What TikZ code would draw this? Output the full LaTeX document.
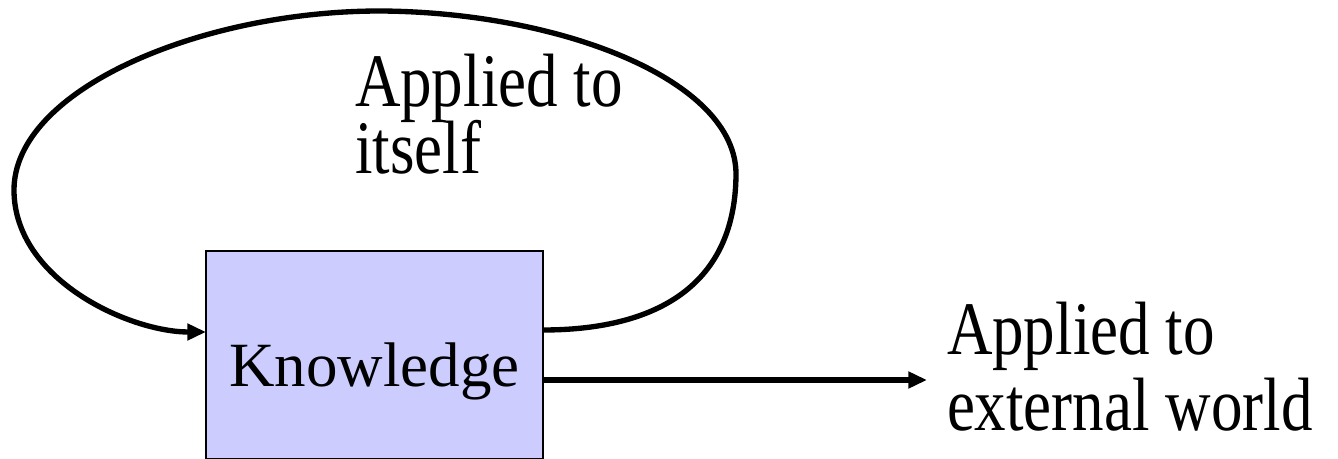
\documentclass[tikz,border=0pt]{standalone}
\usepackage{fontspec}
\setmainfont{Liberation Serif}
\usepackage{graphicx}
\usetikzlibrary{arrows.meta}
\definecolor{boxfill}{HTML}{CCCCFF}
\newcommand\twoline[3]{\scalebox{1}[1.2]{\vtop{\baselineskip=#3\lineskiplimit=-\maxdimen\lineskip=0pt\hbox{#1}\hbox{#2}}}}
\begin{document}
\begin{tikzpicture}[x=0.75pt,y=-0.75pt,
  conn/.style={line width=4pt, -{Triangle[length=14pt,width=12pt]}},
  lbl/.style={anchor=base west, inner sep=0pt, outer sep=0pt, font=\fontsize{47.25pt}{56pt}\selectfont},
  kbox/.style={draw, line width=1.3pt, fill=boxfill, minimum width=252.75pt, minimum height=156pt,
    inner sep=0pt, outer sep=0pt, text height=48pt, text depth=0pt, font=\fontsize{47.25pt}{56pt}\selectfont}]
\useasboundingbox (0,0) rectangle (1338,459);
\node[kbox] (box) at (374.5,355) {Knowledge};
\node[lbl] (self) at (355,107) {\twoline{Applied to}{itself}{41.5pt}};
\node[lbl] (ext) at (947,354) {\twoline{Applied to}{external world}{47.5pt}};
\coordinate (tipend) at (927,380);
\draw[conn] ([yshift=18.75pt]box.east) .. controls (650,330) and (735,290) .. (736,175)
  .. controls (737,80) and (560,12) .. (380,11)
  .. controls (200,11) and (14,90) .. (14,190)
  .. controls (14,280) and (130,332) .. ([yshift=17.25pt]box.west);
\draw[conn] ([yshift=-18.75pt]box.east) -- (tipend);
\end{tikzpicture}
\end{document}
